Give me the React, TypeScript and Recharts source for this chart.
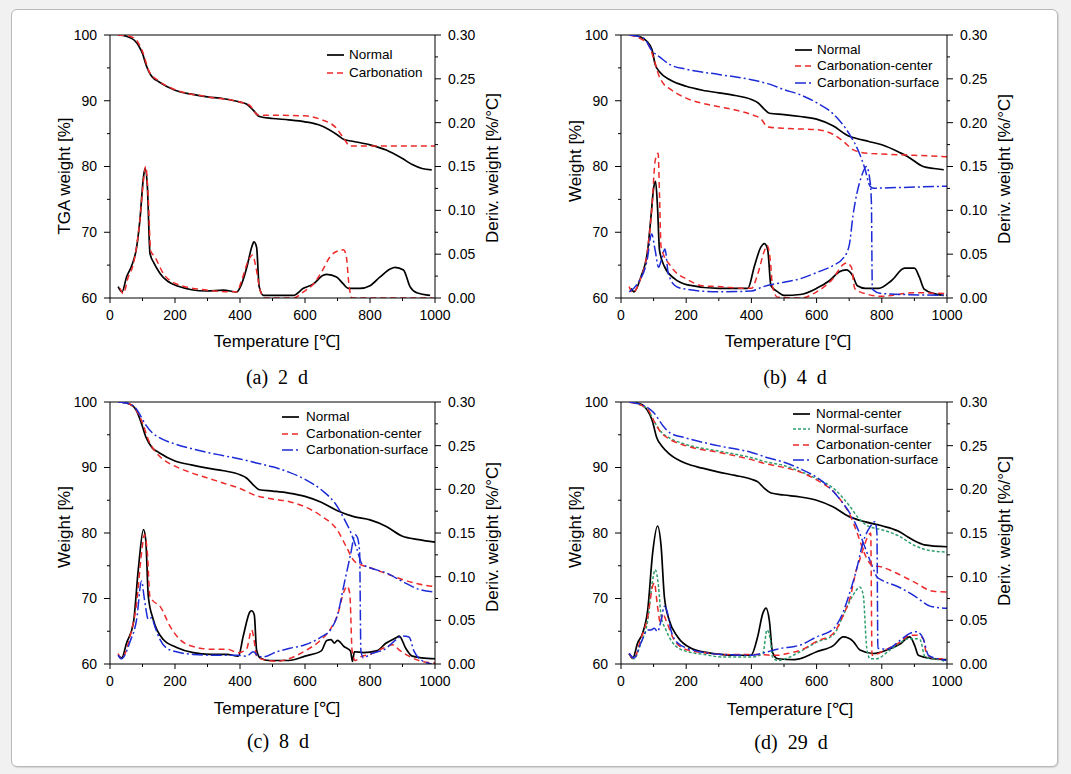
import React from 'react';
import { ComposedChart, Line, XAxis, YAxis, ReferenceLine } from 'recharts';

type Pt = [number, number];

// ---- (a) 2 d : [temperature, value] ----
const aNormalW: Pt[] = [[25,100],[50,99.8],[75,99.2],[90,98.2],[100,97.2],[110,95.6],[120,94.4],[130,93.6],[150,92.9],[200,91.6],[250,91.0],[300,90.6],[350,90.3],[400,89.8],[420,89.5],[440,88.6],[460,87.6],[500,87.3],[550,87.1],[600,86.8],[650,86.2],[700,84.8],[720,84.1],[750,83.8],[800,83.3],[850,82.5],[900,81.2],[930,80.3],[960,79.7],[990,79.5]];
const aCarbW: Pt[] = [[25,100],[50,99.9],[75,99.5],[100,97.5],[120,94.5],[150,93.0],[200,91.7],[300,90.6],[400,89.8],[430,89.3],[450,88.0],[460,87.8],[500,87.8],[600,87.7],[646,87.2],[697,85.8],[723,84.0],[738,83.1],[800,83.1],[1000,83.1]];
const aNormalD: Pt[] = [[25,0.013],[37,0.007],[51,0.024],[67,0.037],[82,0.058],[92,0.089],[103,0.138],[108,0.148],[115,0.127],[123,0.051],[135,0.04],[154,0.028],[205,0.014],[297,0.008],[349,0.009],[390,0.007],[405,0.016],[421,0.035],[436,0.058],[443,0.064],[451,0.058],[459,0.013],[472,0.003],[564,0.003],[595,0.011],[626,0.016],[656,0.026],[667,0.027],[697,0.024],[718,0.016],[733,0.011],[769,0.011],[800,0.014],[831,0.024],[862,0.033],[877,0.035],[903,0.032],[923,0.013],[944,0.006],[985,0.003]];
const aCarbD: Pt[] = [[31,0.011],[41,0.005],[56,0.024],[72,0.039],[92,0.089],[103,0.134],[110,0.15],[118,0.112],[125,0.054],[138,0.047],[164,0.028],[205,0.016],[297,0.009],[390,0.007],[405,0.02],[426,0.043],[439,0.049],[449,0.035],[462,0.009],[477,0],[564,0],[595,0.007],[626,0.016],[656,0.033],[677,0.047],[703,0.054],[718,0.055],[726,0.05],[736,0.013],[744,0],[995,0]];

// ---- (b) 4 d ----
const bNormalW: Pt[] = [[25,100],[60,99.7],[80,99.0],[95,97.8],[105,95.5],[120,94.3],[150,93.2],[200,92.2],[250,91.6],[300,91.2],[350,90.8],[400,90.2],[420,89.7],[440,88.7],[455,88.1],[500,87.9],[550,87.6],[600,87.2],[650,86.2],[700,84.6],[720,84.3],[760,83.8],[800,83.3],[856,82.1],[880,81.5],[927,80.0],[960,79.7],[990,79.5]];
const bCenterW: Pt[] = [[25,100],[80,98.8],[100,96.5],[115,94.0],[130,92.6],[150,91.8],[200,90.4],[250,89.6],[300,89.1],[350,88.6],[400,87.9],[430,87.2],[450,86.0],[500,85.8],[600,85.6],[650,84.9],[680,83.9],[714,82.5],[756,82.0],[800,81.9],[900,81.7],[1000,81.5]];
const bSurfW: Pt[] = [[25,100],[70,99.5],[95,97.6],[120,96.6],[150,95.5],[200,94.8],[300,94.0],[400,93.2],[450,92.6],[500,91.7],[550,90.9],[600,89.7],[651,88.0],[702,84.8],[727,82.5],[748,79.7],[764,77.0],[775,76.7],[850,76.8],[1000,77.0]];
const bNormalD: Pt[] = [[31,0.011],[40,0.007],[61,0.024],[82,0.055],[92,0.093],[100,0.125],[106,0.133],[112,0.104],[118,0.055],[133,0.036],[164,0.022],[204,0.015],[300,0.011],[389,0.011],[409,0.036],[429,0.058],[440,0.062],[450,0.055],[460,0.014],[481,0.007],[500,0.003],[550,0.004],[600,0.011],[640,0.02],[670,0.03],[690,0.032],[710,0.026],[725,0.014],[750,0.011],[790,0.011],[830,0.02],[870,0.034],[900,0.034],[915,0.024],[930,0.01],[960,0.005],[990,0.003]];
const bCenterD: Pt[] = [[25,0.013],[35,0.006],[60,0.022],[80,0.051],[95,0.104],[105,0.157],[114,0.165],[118,0.119],[123,0.058],[153,0.036],[204,0.021],[250,0.014],[300,0.013],[380,0.011],[400,0.011],[420,0.028],[440,0.054],[448,0.06],[458,0.043],[465,0.013],[480,0.001],[550,0],[600,0.007],[650,0.022],[681,0.038],[692,0.04],[707,0.035],[717,0.011],[733,0.007],[800,0.002],[900,0.006],[1000,0.005]];
const bSurfD: Pt[] = [[25,0.007],[50,0.016],[80,0.043],[94,0.073],[105,0.054],[115,0.035],[125,0.045],[135,0.056],[145,0.028],[170,0.013],[200,0.01],[300,0.007],[400,0.008],[437,0.013],[500,0.018],[550,0.022],[600,0.029],[650,0.037],[683,0.046],[700,0.06],[712,0.095],[737,0.138],[753,0.15],[764,0.133],[768,0.11],[771,0.01],[800,0.005],[1000,0.003]];

// ---- (c) 8 d ----
const cNormalW: Pt[] = [[25,100],[60,99.7],[80,98.8],[95,97.0],[110,94.7],[130,93.0],[150,92.3],[200,91.0],[250,90.4],[300,89.9],[350,89.5],[400,88.9],[420,88.4],[440,87.4],[460,86.6],[500,86.4],[550,86.1],[600,85.6],[650,84.7],[700,83.4],[750,82.5],[800,82.0],[850,81.0],[900,79.5],[950,79.0],[1000,78.6]];
const cCenterW: Pt[] = [[25,100],[60,99.7],[80,98.8],[100,96.8],[120,94.0],[140,92.4],[170,91.0],[200,90.2],[250,89.2],[300,88.4],[350,87.6],[400,86.8],[450,85.7],[500,85.2],[550,84.8],[600,84.0],[650,82.6],[700,80.4],[730,77.6],[750,75.8],[780,75.0],[800,74.7],[850,73.8],[900,72.9],[950,72.2],[1000,71.8]];
const cSurfW: Pt[] = [[25,100],[60,99.7],[80,99.0],[95,97.8],[110,96.5],[130,95.3],[150,94.6],[200,93.6],[250,92.9],[300,92.3],[350,91.8],[400,91.3],[450,90.7],[500,90.1],[550,89.3],[600,88.2],[650,86.6],[700,84.0],[720,82.2],[740,80.2],[760,77.5],[775,75.3],[800,74.7],[850,73.9],[900,72.6],[950,71.4],[1000,71.0]];
const cNormalD: Pt[] = [[25,0.01],[36,0.007],[51,0.024],[72,0.047],[87,0.108],[103,0.154],[110,0.142],[118,0.077],[133,0.051],[164,0.028],[205,0.019],[256,0.013],[308,0.011],[359,0.011],[395,0.009],[410,0.032],[431,0.06],[436,0.061],[444,0.056],[451,0.016],[462,0.007],[492,0.004],[550,0.004],[600,0.009],[650,0.015],[667,0.027],[680,0.028],[690,0.024],[700,0.027],[720,0.02],[740,0.015],[746,0.003],[752,0.014],[780,0.013],[820,0.015],[850,0.024],[880,0.03],[890,0.032],[910,0.018],[930,0.009],[960,0.007],[1000,0.006]];
const cCenterD: Pt[] = [[25,0.012],[35,0.006],[62,0.032],[82,0.07],[97,0.127],[106,0.148],[115,0.127],[123,0.077],[133,0.072],[154,0.066],[185,0.043],[215,0.028],[256,0.02],[308,0.017],[359,0.017],[395,0.013],[420,0.017],[436,0.039],[443,0.028],[451,0.009],[472,0.005],[513,0.003],[550,0.006],[600,0.015],[650,0.028],[680,0.041],[700,0.056],[720,0.083],[730,0.089],[738,0.08],[745,0.015],[755,0.004],[770,0.008],[800,0.011],[840,0.018],[870,0.022],[890,0.016],[920,0.009],[950,0.004],[1000,0.001]];
const cSurfD: Pt[] = [[25,0.01],[35,0.006],[62,0.026],[82,0.051],[97,0.095],[106,0.074],[118,0.051],[128,0.053],[138,0.043],[154,0.028],[185,0.016],[256,0.011],[328,0.01],[390,0.01],[420,0.009],[441,0.014],[456,0.009],[470,0.008],[513,0.014],[554,0.018],[600,0.022],[650,0.031],[680,0.04],[700,0.056],[720,0.091],[740,0.125],[754,0.148],[760,0.146],[768,0.129],[772,0.015],[780,0.007],[800,0.011],[850,0.018],[880,0.028],[900,0.032],[920,0.031],[935,0.015],[960,0.004],[990,0]];

// ---- (d) 29 d ----
const dNCenterW: Pt[] = [[25,100],[60,99.7],[80,98.8],[95,97.3],[110,94.5],[125,93.3],[150,92.0],[200,90.6],[250,89.9],[300,89.3],[350,88.8],[400,88.2],[420,87.8],[440,86.8],[460,86.1],[500,85.8],[550,85.5],[600,85.0],[650,84.0],[700,82.5],[750,81.7],[800,81.1],[850,80.3],[880,79.4],[900,78.8],[930,78.2],[1000,77.9]];
const dNSurfW: Pt[] = [[25,100],[80,99.0],[100,97.2],[120,95.6],[150,94.5],[200,93.5],[300,92.5],[400,91.5],[450,90.8],[500,90.3],[550,89.4],[600,88.3],[650,86.9],[700,84.2],[730,82.2],[760,81.0],[800,80.5],[850,79.6],[900,78.1],[950,77.3],[1000,77.1]];
const dCCenterW: Pt[] = [[25,100],[80,99.0],[100,97.2],[120,95.5],[150,94.3],[200,93.3],[300,92.3],[400,91.2],[450,90.5],[500,90.0],[550,89.3],[600,88.1],[650,86.4],[680,84.6],[700,83.0],[723,80.2],[740,77.8],[754,76.1],[769,75.1],[800,74.8],[856,73.6],[900,72.5],[958,71.1],[1000,71.0]];
const dCSurfW: Pt[] = [[25,100],[80,99.2],[100,98.4],[130,96.3],[150,95.3],[200,94.5],[300,93.3],[400,92.3],[450,91.5],[500,90.8],[550,89.8],[600,88.5],[650,86.4],[680,84.6],[700,83.2],[730,80.2],[750,77.6],[770,75.0],[785,73.3],[800,72.8],[850,71.8],[900,70.4],[950,68.8],[1000,68.5]];
const dNCenterD: Pt[] = [[25,0.012],[36,0.0065],[51,0.024],[66,0.035],[82,0.062],[97,0.127],[112,0.158],[123,0.135],[133,0.077],[148,0.05],[174,0.031],[215,0.018],[266,0.013],[307,0.011],[350,0.01],[399,0.01],[419,0.031],[435,0.058],[445,0.064],[455,0.05],[465,0.013],[481,0.006],[532,0.005],[549,0.006],[600,0.014],[651,0.021],[682,0.031],[712,0.026],[733,0.016],[774,0.012],[815,0.016],[856,0.023],[886,0.031],[902,0.02],[912,0.01],[958,0.006],[998,0.005]];
const dNSurfD: Pt[] = [[25,0.012],[40,0.006],[61,0.024],[82,0.05],[97,0.096],[105,0.108],[115,0.089],[123,0.055],[138,0.039],[164,0.022],[204,0.014],[256,0.011],[307,0.008],[400,0.008],[435,0.012],[448,0.039],[458,0.028],[465,0.008],[481,0.004],[511,0.007],[549,0.014],[600,0.025],[651,0.033],[682,0.056],[712,0.079],[733,0.088],[743,0.079],[754,0.018],[764,0.006],[784,0.006],[825,0.016],[886,0.029],[907,0.029],[917,0.028],[933,0.008],[973,0.005],[995,0.003]];
const dCCenterD: Pt[] = [[25,0.012],[40,0.006],[60,0.028],[82,0.054],[97,0.089],[102,0.093],[112,0.066],[121,0.047],[128,0.058],[138,0.05],[164,0.027],[204,0.016],[256,0.013],[307,0.011],[420,0.011],[460,0.01],[481,0.01],[511,0.012],[552,0.016],[600,0.026],[651,0.035],[682,0.056],[702,0.075],[723,0.109],[733,0.12],[743,0.132],[759,0.147],[766,0.15],[770,0.01],[815,0.017],[856,0.025],[886,0.033],[907,0.033],[927,0.029],[938,0.011],[970,0.006],[1000,0.006]];
const dCSurfD: Pt[] = [[25,0.012],[40,0.007],[61,0.024],[82,0.039],[92,0.039],[102,0.041],[112,0.037],[123,0.05],[133,0.066],[143,0.058],[153,0.039],[174,0.024],[204,0.018],[256,0.013],[307,0.011],[400,0.01],[430,0.012],[450,0.014],[470,0.016],[491,0.018],[532,0.02],[552,0.022],[600,0.031],[651,0.04],[682,0.06],[702,0.082],[723,0.109],[743,0.14],[764,0.157],[779,0.163],[785,0.15],[788,0.018],[815,0.017],[856,0.027],[886,0.035],[907,0.037],[927,0.029],[943,0.01],[973,0.006],[998,0.004]];

const X_TICKS = [0, 100, 200, 300, 400, 500, 600, 700, 800, 900, 1000];
const W_TICKS = [60, 65, 70, 75, 80, 85, 90, 95, 100];
const D_TICKS = [0, 0.025, 0.05, 0.075, 0.1, 0.125, 0.15, 0.175, 0.2, 0.225, 0.25, 0.275, 0.3];

const FONT = 'Arial, "Liberation Sans", Helvetica, sans-serif';
const SERIF = '"Times New Roman", "Liberation Serif", serif';

const LOOK: Record<string, { color: string; dash?: string; width: number }> = {
  normal: { color: '#000000', width: 1.7 },
  nsurface: { color: '#2f9e6e', dash: '3 2', width: 1.5 },
  center: { color: '#ec2a2a', dash: '6 4', width: 1.5 },
  surface: { color: '#1c2bd6', dash: '11 3 2 3', width: 1.5 },
};

interface Series { name: string; look: string; w: Pt[]; d: Pt[] }
interface PanelDef {
  left: number; top: number; right: number; bottom: number;
  yTitle: string; yTitleY: number; dTitleY: number; xTitleX: number; xTitleY: number;
  caption: string; capX: number; capY: number;
  legX: number; legTextX: number; legY: number; legRow: number;
  series: Series[];
}

const PANELS: PanelDef[] = [
  {
    left: 110, top: 35, right: 435, bottom: 298,
    yTitle: 'TGA weight [%]', yTitleY: 176, dTitleY: 168, xTitleX: 277, xTitleY: 340,
    caption: '(a)  2  d', capX: 277, capY: 377,
    legX: 327, legTextX: 349, legY: 55, legRow: 18,
    series: [
      { name: 'Normal', look: 'normal', w: aNormalW, d: aNormalD },
      { name: 'Carbonation', look: 'center', w: aCarbW, d: aCarbD },
    ],
  },
  {
    left: 621, top: 35, right: 947, bottom: 298,
    yTitle: 'Weight [%]', yTitleY: 161, dTitleY: 169, xTitleX: 788, xTitleY: 340,
    caption: '(b)  4  d', capX: 795, capY: 377,
    legX: 795, legTextX: 817, legY: 50, legRow: 16.3,
    series: [
      { name: 'Normal', look: 'normal', w: bNormalW, d: bNormalD },
      { name: 'Carbonation-center', look: 'center', w: bCenterW, d: bCenterD },
      { name: 'Carbonation-surface', look: 'surface', w: bSurfW, d: bSurfD },
    ],
  },
  {
    left: 110, top: 402, right: 435, bottom: 664,
    yTitle: 'Weight [%]', yTitleY: 527, dTitleY: 537, xTitleX: 277, xTitleY: 707,
    caption: '(c)  8  d', capX: 278, capY: 741,
    legX: 282, legTextX: 306, legY: 417, legRow: 16.5,
    series: [
      { name: 'Normal', look: 'normal', w: cNormalW, d: cNormalD },
      { name: 'Carbonation-center', look: 'center', w: cCenterW, d: cCenterD },
      { name: 'Carbonation-surface', look: 'surface', w: cSurfW, d: cSurfD },
    ],
  },
  {
    left: 621, top: 402, right: 947, bottom: 664,
    yTitle: 'Weight [%]', yTitleY: 527, dTitleY: 531, xTitleX: 790, xTitleY: 708,
    caption: '(d)  29  d', capX: 791, capY: 742,
    legX: 793, legTextX: 816, legY: 414, legRow: 15.4,
    series: [
      { name: 'Normal-center', look: 'normal', w: dNCenterW, d: dNCenterD },
      { name: 'Normal-surface', look: 'nsurface', w: dNSurfW, d: dNSurfD },
      { name: 'Carbonation-center', look: 'center', w: dCCenterW, d: dCCenterD },
      { name: 'Carbonation-surface', look: 'surface', w: dCSurfW, d: dCSurfD },
    ],
  },
];

const rows = (pts: Pt[]) => pts.map(([t, v]) => ({ t, v }));

const XTick = (props: any) => {
  const { x, y, payload } = props;
  const major = payload.value % 200 === 0;
  return (
    <g>
      <line x1={x} x2={x} y1={y} y2={y + (major ? 5 : 3)} stroke="#000" />
      {major && (
        <text x={x} y={y + 17} dy="0.35em" textAnchor="middle" fontSize={14} fontFamily={FONT} fill="#000">
          {payload.value}
        </text>
      )}
    </g>
  );
};

const WTick = (props: any) => {
  const { x, y, payload } = props;
  const major = payload.value % 10 === 0;
  return (
    <g>
      <line x1={x - (major ? 6 : 3)} x2={x} y1={y} y2={y} stroke="#000" />
      {major && (
        <text x={x - 13} y={y} dy="0.35em" textAnchor="end" fontSize={14} fontFamily={FONT} fill="#000">
          {payload.value}
        </text>
      )}
    </g>
  );
};

const DTick = (props: any) => {
  const { x, y, payload } = props;
  const major = Math.round(payload.value * 1000) % 50 === 0;
  return (
    <g>
      <line x1={x} x2={x + (major ? 6 : 3)} y1={y} y2={y} stroke="#000" />
      {major && (
        <text x={x + 13} y={y} dy="0.35em" textAnchor="start" fontSize={14} fontFamily={FONT} fill="#000">
          {payload.value.toFixed(2)}
        </text>
      )}
    </g>
  );
};

const abs = (x: number, y: number, extra: React.CSSProperties = {}): React.CSSProperties => ({
  position: 'absolute', left: x, top: y, whiteSpace: 'pre', ...extra,
});

const Panel: React.FC<{ p: PanelDef }> = ({ p }) => {
  const w = p.right - p.left;
  const h = p.bottom - p.top;
  return (
    <>
      <div style={abs(p.left - 60, p.top - 10)}>
        <ComposedChart width={w + 120} height={h + 60} margin={{ top: 10, right: 0, bottom: 20, left: 0 }}>
          <XAxis
            dataKey="t" type="number" domain={[0, 1000]} ticks={X_TICKS} interval={0}
            allowDataOverflow height={30} tickSize={0} tickMargin={0} tickLine={false}
            tick={<XTick />} axisLine={{ stroke: '#000' }}
          />
          <YAxis
            yAxisId="w" domain={[60, 100]} ticks={W_TICKS} interval={0} allowDataOverflow width={60}
            tickSize={0} tickMargin={0} tickLine={false} tick={<WTick />} axisLine={{ stroke: '#000' }}
          />
          <YAxis
            yAxisId="d" orientation="right" domain={[0, 0.3]} ticks={D_TICKS} interval={0} allowDataOverflow width={60}
            tickSize={0} tickMargin={0} tickLine={false} tick={<DTick />} axisLine={{ stroke: '#000' }}
          />
          <ReferenceLine yAxisId="w" y={100} stroke="#000" />
          {p.series.map((s) => (
            <Line
              key={s.name + '-w'} data={rows(s.w)} dataKey="v" yAxisId="w" type="monotone" dot={false}
              stroke={LOOK[s.look].color} strokeDasharray={LOOK[s.look].dash} strokeWidth={LOOK[s.look].width}
              isAnimationActive={false} name={s.name}
            />
          ))}
          {p.series.map((s) => (
            <Line
              key={s.name + '-d'} data={rows(s.d)} dataKey="v" yAxisId="d" type="monotone" dot={false}
              stroke={LOOK[s.look].color} strokeDasharray={LOOK[s.look].dash} strokeWidth={LOOK[s.look].width}
              isAnimationActive={false} name={s.name + ' deriv'}
            />
          ))}
        </ComposedChart>
      </div>

      {/* legend */}
      {p.series.map((s, i) => {
        const cy = p.legY + i * p.legRow;
        return (
          <React.Fragment key={s.name}>
            <svg style={abs(p.legX, cy - 2)} width={17} height={4}>
              <line x1={0} x2={17} y1={2} y2={2} stroke={LOOK[s.look].color}
                strokeDasharray={LOOK[s.look].dash} strokeWidth={LOOK[s.look].width} />
            </svg>
            <div style={abs(p.legTextX, cy - 8, { fontFamily: FONT, fontSize: 13.5, lineHeight: '16px', color: '#000' })}>
              {s.name}
            </div>
          </React.Fragment>
        );
      })}

      {/* axis titles and caption */}
      <div style={abs(p.left - 45, p.yTitleY, { fontFamily: FONT, fontSize: 17, transform: 'translate(-50%, -50%) rotate(-90deg)' })}>
        {p.yTitle}
      </div>
      <div style={abs(p.right + 58, p.dTitleY, { fontFamily: FONT, fontSize: 17, transform: 'translate(-50%, -50%) rotate(-90deg)' })}>
        Deriv. weight [%/°C]
      </div>
      <div style={abs(p.xTitleX, p.xTitleY, { fontFamily: FONT, fontSize: 17, transform: 'translate(-50%, -50%)' })}>
        Temperature [℃]
      </div>
      <div style={abs(p.capX, p.capY, { fontFamily: SERIF, fontSize: 20, transform: 'translate(-50%, -50%)' })}>
        {p.caption}
      </div>
    </>
  );
};

export default function App() {
  return (
    <div style={{ position: 'absolute', left: 0, top: 0, width: 1071, height: 774, background: '#f1f1f1', overflow: 'hidden' }}>
      <div
        style={{
          position: 'absolute', left: 11, top: 9, width: 1047, height: 758, background: '#fff',
          border: '1px solid #b9b9b9', borderRadius: 6, boxSizing: 'border-box',
          boxShadow: '1px 1px 1px rgba(0,0,0,0.12)',
        }}
      />
      {PANELS.map((p, i) => (
        <Panel key={i} p={p} />
      ))}
    </div>
  );
}
